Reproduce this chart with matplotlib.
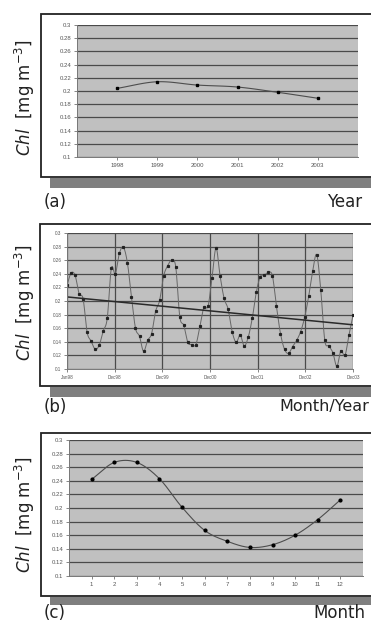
#!/usr/bin/env python3
"""Chl time series: annual means, monthly series with trend, climatology."""
import numpy as np
import matplotlib
matplotlib.use("Agg")
import matplotlib.pyplot as plt
from matplotlib.patches import Rectangle
from matplotlib.ticker import FuncFormatter

W, H = 371, 628

# (a) annual means
years    = ["1998", "1999", "2000", "2001", "2002", "2003"]
chl_year = [0.204, 0.214, 0.209, 0.206, 0.198, 0.189]

# (b) monthly values Jan98 .. Dec03
chl_month = [
    0.223, 0.241, 0.238, 0.211, 0.203, 0.154, 0.141, 0.129, 0.135, 0.156, 0.175, 0.248,
    0.240, 0.270, 0.279, 0.256, 0.206, 0.160, 0.148, 0.126, 0.142, 0.152, 0.185, 0.201,
    0.237, 0.252, 0.260, 0.250, 0.177, 0.164, 0.139, 0.136, 0.136, 0.163, 0.191, 0.192,
    0.234, 0.278, 0.237, 0.204, 0.188, 0.155, 0.139, 0.150, 0.134, 0.147, 0.175, 0.213,
    0.236, 0.238, 0.242, 0.237, 0.192, 0.152, 0.129, 0.123, 0.133, 0.142, 0.155, 0.176,
    0.207, 0.244, 0.268, 0.216, 0.142, 0.134, 0.124, 0.104, 0.127, 0.120, 0.150, 0.179,
]
month_year_labels = ["Jan98", "Dec98", "Dec99", "Dec00", "Dec01", "Dec02", "Dec03"]
trend_ends = [0.206, 0.165]

# (c) monthly climatology
month_nums = list(range(1, 13))
chl_clim   = [0.242, 0.267, 0.267, 0.243, 0.201, 0.167,
              0.151, 0.142, 0.146, 0.160, 0.183, 0.212]

PLOT_BG   = "#c0c0c0"
GRID_COL  = "#4a4a4a"
TICK_COL  = "#555555"
LINE_COL  = "#4d4d4d"


def smooth(x, y, n=20):
    # Catmull-Rom curve through the points, for drawing only
    x = np.asarray(x, float)
    y = np.asarray(y, float)
    px = np.concatenate([[2 * x[0] - x[1]], x, [2 * x[-1] - x[-2]]])
    py = np.concatenate([[2 * y[0] - y[1]], y, [2 * y[-1] - y[-2]]])
    t = np.linspace(0, 1, n, endpoint=False)
    xs, ys = [], []
    for i in range(1, len(px) - 2):
        for p, out in ((px, xs), (py, ys)):
            p0, p1, p2, p3 = p[i - 1], p[i], p[i + 1], p[i + 2]
            out.extend(0.5 * (2 * p1 + (-p0 + p2) * t
                              + (2 * p0 - 5 * p1 + 4 * p2 - p3) * t ** 2
                              + (-p0 + 3 * p1 - 3 * p2 + p3) * t ** 3))
    xs.append(x[-1])
    ys.append(y[-1])
    return np.array(xs), np.array(ys)


def frac(x0, y0, x1, y1):
    return [x0 / W, 1 - y1 / H, (x1 - x0) / W, (y1 - y0) / H]


def frame(fig, box, shadow):
    x0, y0, x1, y1 = shadow
    fig.add_artist(Rectangle((x0 / W, 1 - y1 / H), (x1 - x0) / W, (y1 - y0) / H,
                             transform=fig.transFigure, facecolor="#7f7f7f",
                             edgecolor="none", zorder=-2))
    x0, y0, x1, y1 = box
    fig.add_artist(Rectangle((x0 / W, 1 - y1 / H), (x1 - x0) / W, (y1 - y0) / H,
                             transform=fig.transFigure, facecolor="white",
                             edgecolor="#222222", linewidth=1.3, zorder=-1))


def style(ax):
    ax.set_facecolor(PLOT_BG)
    ax.set_ylim(0.1, 0.3)
    ax.set_yticks(np.arange(0.1, 0.3001, 0.02))
    ax.yaxis.set_major_formatter(FuncFormatter(lambda v, _: f"{v:.2f}".rstrip("0")))
    ax.grid(axis="y", color=GRID_COL, linewidth=0.9)
    ax.set_axisbelow(True)
    for s in ("top", "right"):
        ax.spines[s].set_visible(False)
    for s in ("left", "bottom"):
        ax.spines[s].set_color("#777777")
        ax.spines[s].set_linewidth(0.7)
    ax.tick_params(labelsize=4.3, colors=TICK_COL, length=2, width=0.5, pad=2)
    for lab in ax.get_xticklabels() + ax.get_yticklabels():
        lab.set_fontfamily("Liberation Sans")


def ylabel(fig, y):
    fig.text(25 / W, 1 - y / H, r"$\mathit{Chl}$  [mg m$^{-3}$]", rotation=90,
             ha="center", va="center", fontsize=12, color="#222222")


def corner_labels(fig, tag, name, y, right, size=12):
    fig.text(44 / W, 1 - y / H, tag, ha="left", va="center", fontsize=12, color="#222222")
    fig.text(right / W, 1 - y / H, name, ha="right", va="center", fontsize=size,
             color="#222222")


fig = plt.figure(figsize=(W / 100, H / 100), dpi=100)

# ---- (a)
frame(fig, (41, 14, 380, 177), (50, 178, 380, 188))
ax1 = fig.add_axes(frac(77, 25, 358, 157))
style(ax1)
xa = np.arange(1, len(years) + 1)
sx, sy = smooth(xa, chl_year)
ax1.plot(sx, sy, color=LINE_COL, linewidth=0.8)
ax1.plot(xa, chl_year, "s", color="black", markersize=2)
ax1.set_xlim(0, len(years) + 1)
ax1.set_xticks(xa)
ax1.set_xticklabels(years)
style(ax1)
ylabel(fig, 98)
corner_labels(fig, "(a)", "Year", 202, 362)

# ---- (b)
frame(fig, (40, 224, 380, 386), (50, 387, 380, 397))
ax2 = fig.add_axes(frac(67, 233, 353, 369))
style(ax2)
xb = np.arange(len(chl_month))
sx, sy = smooth(xb, chl_month, n=8)
ax2.plot(sx, sy, color="#666666", linewidth=0.7)
ax2.plot(xb, chl_month, "s", color="#222222", markersize=1.3)
ax2.plot([xb[0], xb[-1]], trend_ends, color="#2a2a2a", linewidth=1.1)
ax2.set_xlim(xb[0], xb[-1])
ticks_b = np.linspace(xb[0], xb[-1], len(month_year_labels))
ax2.set_xticks(ticks_b)
ax2.set_xticklabels(month_year_labels)
ax2.grid(axis="x", color=GRID_COL, linewidth=0.9)
style(ax2)
ax2.tick_params(labelsize=3.3)
ylabel(fig, 303)
corner_labels(fig, "(b)", "Month/Year", 407, 369, size=11.5)

# ---- (c)
frame(fig, (41, 433, 380, 596), (50, 597, 380, 605))
ax3 = fig.add_axes(frac(69, 440, 363, 576))
style(ax3)
sx, sy = smooth(month_nums, chl_clim)
ax3.plot(sx, sy, color=LINE_COL, linewidth=0.8)
ax3.plot(month_nums, chl_clim, "o", color="black", markersize=2)
ax3.set_xlim(0, 13)
ax3.set_xticks(month_nums)
style(ax3)
ylabel(fig, 515)
corner_labels(fig, "(c)", "Month", 613, 365)

fig.savefig("out.png", dpi=100, facecolor="white")
